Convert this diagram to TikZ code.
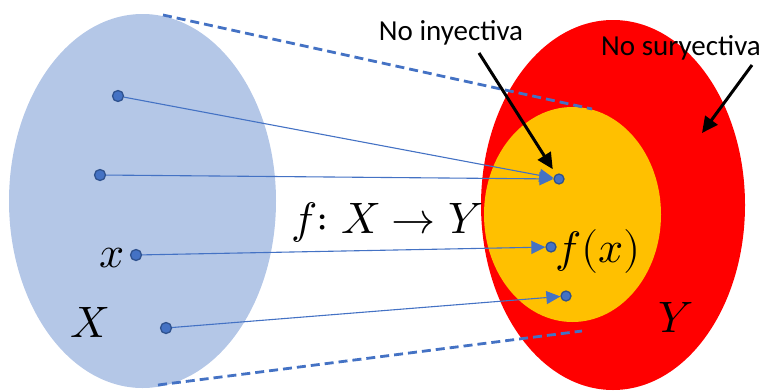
\documentclass[tikz,border=0pt]{standalone}
\usepackage{fontspec}
\usepackage{unicode-math}
\setmainfont{Carlito}
\setmathfont{Latin Modern Math}
\usetikzlibrary{arrows.meta,positioning,shapes.geometric}
\definecolor{setc}{HTML}{B4C7E7}
\definecolor{dotc}{HTML}{4472C4}
\definecolor{dotedge}{HTML}{2F528F}
\definecolor{codc}{HTML}{FF0000}
\definecolor{imgc}{HTML}{FFC000}
\tikzset{
  blob/.style={ellipse,draw=none,inner sep=0pt},
  pt/.style={circle,fill=dotc,draw=dotedge,line width=1.3pt,inner sep=0pt,minimum size=11pt},
  map/.style={-{Triangle[length=14pt,width=13pt]},dotc,line width=1.1pt},
  lim/.style={dotc,line width=2.8pt,dash pattern=on 9pt off 5pt},
  pointer/.style={-{Triangle[length=16pt,width=15pt]},line width=3pt},
  lbl/.style={font=\fontsize{29}{30}\selectfont,inner sep=0pt,anchor=base},
  sym/.style={font=\fontsize{44}{44}\selectfont,inner sep=0pt,anchor=base}
}
\begin{document}
\begin{tikzpicture}[x=1pt,y=-1pt]
\useasboundingbox (0,0) rectangle (765,391);
% conjuntos
\node[blob,fill=setc,minimum width=267pt,minimum height=374pt] (setX) at (142.5,201) {};
\node[blob,fill=codc,minimum width=264pt,minimum height=370pt] (setY) at (613,205) {};
\node[blob,fill=imgc,minimum width=177pt,minimum height=215pt] (imgY) at (572.5,214.5) {};
\coordinate (tX) at (163,15); \coordinate (tY) at (592,109);
\coordinate (bX) at (158,385); \coordinate (bY) at (582,331);
\draw[lim] (tX)--(tY);
\draw[lim] (bX)--(bY);
% puntos
\node[pt] (x1) at (118,96) {};
\node[pt] (x2) at (100,175) {};
\node[pt] (x3) at (136,255) {};
\node[pt] (x4) at (166,328) {};
\node[pt,minimum size=10pt] (y1) at (559,179) {};
\node[pt,minimum size=10pt] (y2) at (551,247) {};
\node[pt,minimum size=10pt] (y3) at (566,296) {};
\draw[map] (x1)--(y1);
\draw[map] (x2)--(y1);
\draw[map] (x3)--(y2);
\draw[map] (x4)--(y3);
% etiquetas
\node[lbl] (noiny) at (451,40) {No inyectiva};
\node[lbl] (nosur) at (681,55) {No suryectiva};
\coordinate (p1) at (479,53);
\coordinate (p2) at (752,65); \coordinate (q2) at (702,133);
\draw[pointer,shorten >=6pt] (p1)--(y1);
\draw[pointer] (p2)--(q2);
\node[sym] (fmap) at (387,233) {$f{:}\;X\to Y$};
\node[sym] (fx) at (598,262) {$f(x)$};
\node[sym] (lx) at (112,267) {$x$};
\node[sym] (lX) at (90,337) {$X$};
\node[sym] (lY) at (676,332) {$Y$};
\end{tikzpicture}
\end{document}
